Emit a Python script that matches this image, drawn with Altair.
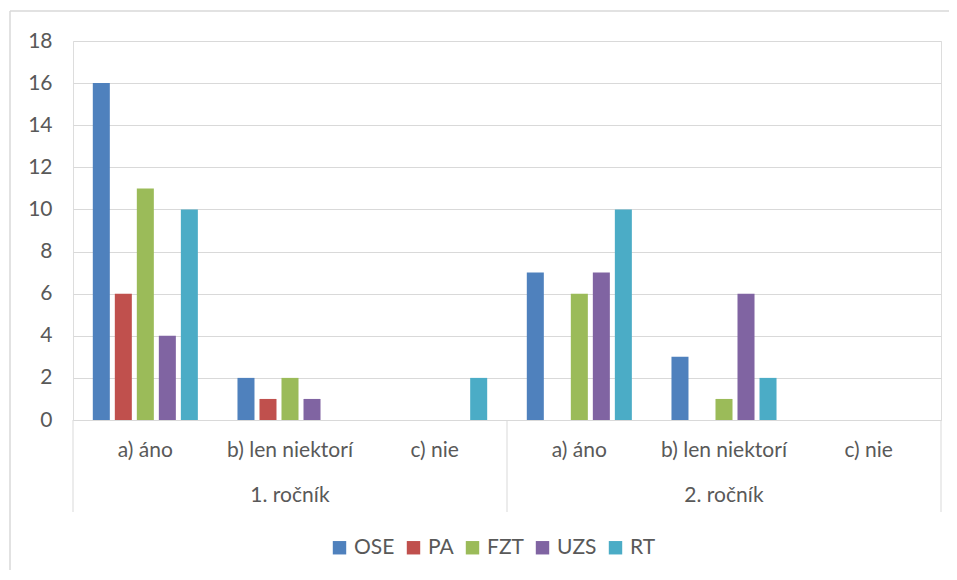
import altair as alt
import pandas as pd

groups = ["a) áno", "b) len niektorí", "c) nie", "a) áno", "b) len niektorí", "c) nie"]
years = ["1. ročník", "2. ročník"]
series = ["OSE", "PA", "FZT", "UZS", "RT"]
colors = ["#4F81BD", "#C0504D", "#9BBB59", "#8064A2", "#4BACC6"]
OSE = [16, 2, 0, 7, 3, 0]
PA = [6, 1, 0, 0, 0, 0]
FZT = [11, 2, 0, 6, 1, 0]
UZS = [4, 1, 0, 7, 6, 0]
RT = [10, 0, 2, 10, 2, 0]

vals = {"OSE": OSE, "PA": PA, "FZT": FZT, "UZS": UZS, "RT": RT}
rows = []
for s in series:
    for i, v in enumerate(vals[s]):
        rows.append({"key": i, "series": s, "value": v})
df = pd.DataFrame(rows)

FONT = "Lato"
FS = 21
TXT = "#595959"
GRID = "#D9D9D9"
W, H = 868, 379

label_expr = "[" + ",".join("'" + g + "'" for g in groups) + "][datum.value]"

xscale = alt.Scale(paddingInner=0, paddingOuter=0)

bars = alt.Chart(df).mark_bar().encode(
    x=alt.X("key:O", scale=xscale, title=None,
            axis=alt.Axis(labelExpr=label_expr, labelAngle=0, ticks=False, tickSize=0,
                          domainColor=GRID, labelColor=TXT, labelFont=FONT,
                          labelFontSize=FS, labelPadding=19, grid=False)),
    xOffset=alt.XOffset("series:N", sort=series,
                        scale=alt.Scale(paddingInner=0.227, paddingOuter=0.9)),
    y=alt.Y("value:Q", scale=alt.Scale(domain=[0, 18]), title=None,
            axis=alt.Axis(values=list(range(0, 19, 2)), domain=False, ticks=False,
                          gridColor=GRID, labelColor=TXT, labelFont=FONT,
                          labelFontSize=FS, labelPadding=21)),
    color=alt.Color("series:N", sort=series,
                    scale=alt.Scale(domain=series, range=colors),
                    legend=alt.Legend(title=None, orient="none", direction="horizontal",
                                      legendX=256, legendY=496, symbolType="square",
                                      symbolSize=180, symbolStrokeWidth=0,
                                      labelFont=FONT, labelFontSize=FS, labelColor=TXT,
                                      columnPadding=8, symbolOffset=0, padding=0)),
)

year_df = pd.DataFrame({"key": [1, 4], "year": years})
year_text = alt.Chart(year_df).mark_text(font=FONT, fontSize=FS, color=TXT).encode(
    x=alt.X("key:O"),
    y=alt.value(455),
    text="year:N",
)

sep_df = pd.DataFrame({"key": [0, 3]})
sep1 = alt.Chart(sep_df).mark_rule(color=GRID, strokeWidth=1).encode(
    x=alt.X("key:O", bandPosition=0),
    y=alt.value(379), y2=alt.value(471),
)
sep_end = pd.DataFrame({"key": [5]})
sep2 = alt.Chart(sep_end).mark_rule(color=GRID, strokeWidth=1).encode(
    x=alt.X("key:O", bandPosition=1),
    y=alt.value(379), y2=alt.value(471),
)

frame_df = pd.DataFrame({"k": [0]})
frame_left = alt.Chart(frame_df).mark_rule(color=GRID, strokeWidth=1.5).encode(
    x=alt.value(-63), y=alt.value(-30), y2=alt.value(560),
)
frame_top = alt.Chart(frame_df).mark_rule(color=GRID, strokeWidth=1.5).encode(
    x=alt.value(-63), x2=alt.value(900), y=alt.value(-30),
)

chart = alt.layer(frame_left, frame_top, bars, year_text, sep1, sep2).properties(
    width=W, height=H,
    autosize=alt.AutoSizeParams(type="none"),
    padding={"left": 65, "top": 33, "right": 8, "bottom": 150},
).configure_view(stroke=None).configure(background="white")

chart.save("out.html", embed_options={"renderer": "svg", "actions": False})
